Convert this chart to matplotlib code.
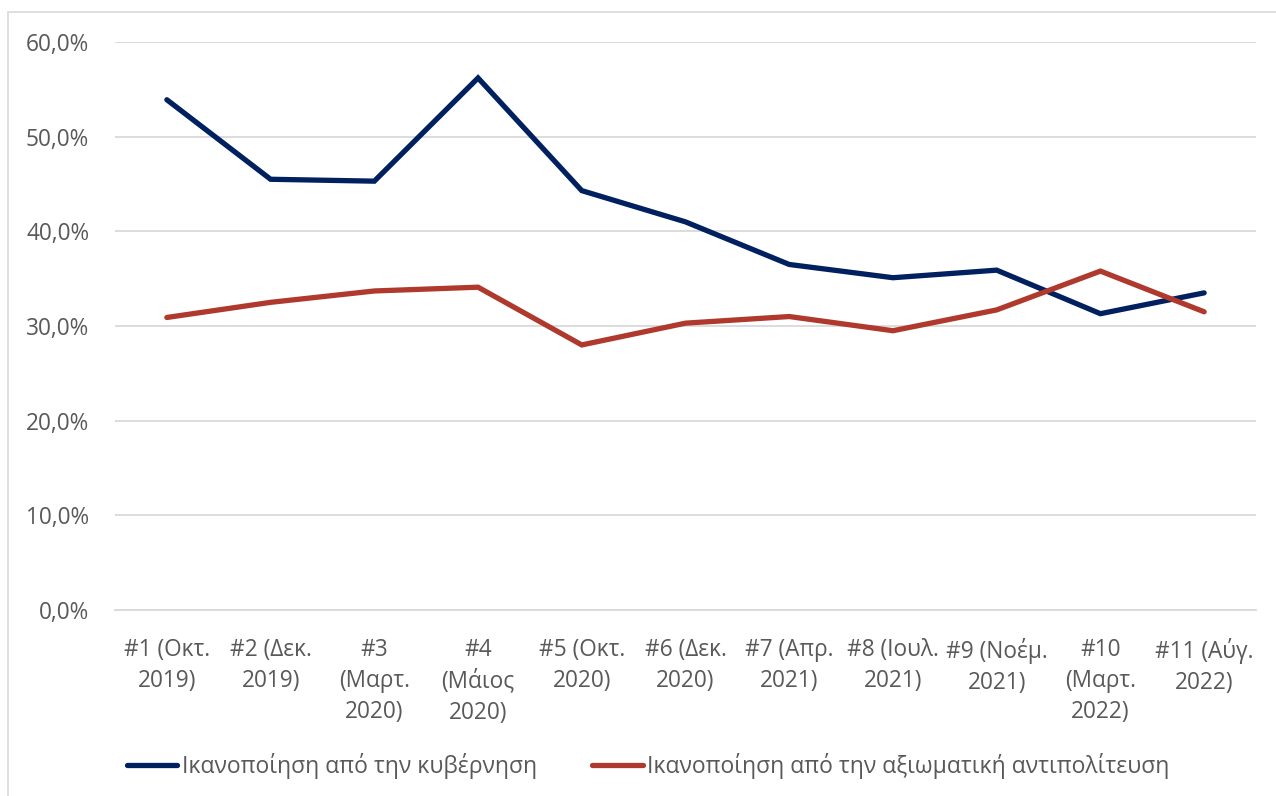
import matplotlib
matplotlib.use("Agg")
import matplotlib.pyplot as plt
from matplotlib.patches import Rectangle
from matplotlib.ticker import FuncFormatter

categories = ["#1 (Οκτ.\n2019)", "#2 (Δεκ.\n2019)", "#3\n(Μαρτ.\n2020)", "#4\n(Μάιος\n2020)",
              "#5 (Οκτ.\n2020)", "#6 (Δεκ.\n2020)", "#7 (Απρ.\n2021)", "#8 (Ιουλ.\n2021)",
              "#9 (Νοέμ.\n2021)", "#10\n(Μαρτ.\n2022)", "#11 (Αύγ.\n2022)"]
government = [53.9, 45.5, 45.3, 56.2, 44.3, 41.0, 36.5, 35.1, 35.9, 31.3, 33.5]
opposition = [30.9, 32.5, 33.7, 34.1, 28.0, 30.3, 31.0, 29.5, 31.7, 35.8, 31.5]
series_names = ["Ικανοποίηση από την κυβέρνηση", "Ικανοποίηση από την αξιωματική αντιπολίτευση"]
yticks = [0, 10, 20, 30, 40, 50, 60]

plt.rcParams['font.family'] = ['Open Sans', 'DejaVu Sans']
W, H = 1276, 796
fig = plt.figure(figsize=(W/100, H/100), dpi=100)
fig.patch.set_facecolor('white')

# outer chart border
fig.add_artist(Rectangle((8/W, -0.01), 1.02, 1 - 12/H + 0.01, transform=fig.transFigure,
                         fill=False, edgecolor='#D9D9D9', linewidth=1.2))

ax = fig.add_axes([115/W, 1 - 610/H, (1256-115)/W, (610-42)/H])
x = list(range(len(categories)))
gray = '#595959'
ax.plot(x, government, color='#002060', linewidth=3.8, solid_joinstyle='miter', solid_capstyle='round',
        label=series_names[0], zorder=3)
ax.plot(x, opposition, color='#B0392E', linewidth=3.8, solid_joinstyle='miter', solid_capstyle='round',
        label=series_names[1], zorder=3)

ax.set_xlim(-0.5, len(categories) - 0.5)
ax.set_ylim(0, 60)
ax.set_yticks(yticks)
ax.yaxis.set_major_formatter(FuncFormatter(lambda v, p: f"{v:.1f}%".replace('.', ',')))
ax.grid(axis='y', color='#D9D9D9', linewidth=1.3)
ax.set_axisbelow(True)
for s in ['top', 'right', 'left']:
    ax.spines[s].set_visible(False)
ax.spines['bottom'].set_color('#D9D9D9')
ax.spines['bottom'].set_linewidth(1.3)
ax.set_xticks(x)
ax.set_xticklabels(categories, linespacing=1.4, va='top')
ax.tick_params(axis='both', length=0, labelsize=16.3, labelcolor=gray)
ax.tick_params(axis='x', pad=20)
ax.tick_params(axis='y', pad=18.5)

leg = fig.legend(loc='center left', bbox_to_anchor=(127/W, 1 - 766/H), ncol=2, frameon=False,
                 fontsize=16.5, handlelength=2.2, handletextpad=0.2, columnspacing=2.4,
                 borderpad=0, borderaxespad=0)
for t in leg.get_texts():
    t.set_color(gray)

fig.savefig("out.png", dpi=100, facecolor='white')
